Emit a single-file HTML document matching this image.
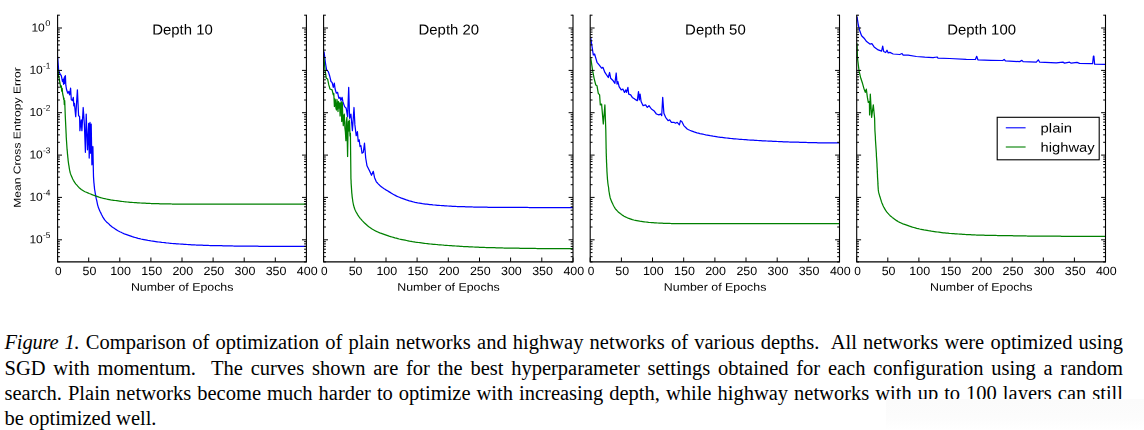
<!DOCTYPE html>
<html><head><meta charset="utf-8"><title>Figure 1</title>
<style>
html,body{margin:0;padding:0;background:#fff;}
body{width:1144px;height:430px;overflow:hidden;position:relative;font-family:"Liberation Sans",sans-serif;}
svg{position:absolute;left:0;top:0;will-change:transform;}
svg text{font-family:"Liberation Sans",sans-serif;fill:#000;text-rendering:geometricPrecision;}
.cap{position:absolute;left:4.5px;width:1118.5px;font-family:"Liberation Serif",serif;font-size:20.5px;line-height:25px;color:#000;white-space:nowrap;text-align:justify;text-align-last:justify;height:25px;}
.cap.last{text-align-last:left;}
.mask{position:absolute;left:886px;top:399.3px;width:258px;height:31px;background:linear-gradient(#fbfbfb,#fcfcfc 60%,#ffffff);}
</style></head><body>
<svg width="1144" height="300" viewBox="0 0 1144 300">
<clipPath id="c0"><rect x="57.6" y="13.2" width="248.79999999999998" height="248.7"/></clipPath>
<g clip-path="url(#c0)" fill="none" stroke-width="1.25" stroke-linejoin="round">
<path d="M57.6,56.6 L58.6,69.9 L60.0,74.0 L61.3,75.7 L62.5,81.5 L63.2,79.5 L63.6,84.3 L64.1,77.8 L64.4,83.5 L64.8,76.3 L65.1,82.5 L65.4,75.7 L65.8,85.2 L66.6,89.8 L67.8,93.2 L68.8,91.5 L69.6,94.8 L70.6,88.2 L71.3,99.8 L72.4,100.6 L73.3,97.3 L73.8,105.8 L74.4,103.3 L75.7,116.6 L77.4,89.8 L78.6,115.8 L79.6,116.6 L79.9,130.7 L81.2,119.9 L81.9,130.7 L83.2,107.5 L84.4,124.9 L85.4,152.3 L86.2,114.1 L87.5,149.8 L88.7,123.3 L89.2,158.1 L90.0,122.4 L90.5,153.2 L91.2,124.1 L91.9,164.8 L92.9,146.5 L93.3,168.0 L93.5,176.6 L93.6,178.1 L93.7,179.6 L93.8,181.1 L93.9,182.6 L94.1,184.1 L94.2,185.6 L94.4,187.1 L94.5,188.6 L94.7,190.0 L95.0,191.5 L95.2,193.0 L95.5,194.5 L95.7,196.0 L96.0,197.4 L96.3,198.9 L96.7,200.4 L97.0,201.8 L97.3,203.3 L97.6,204.8 L98.0,206.2 L98.4,207.6 L99.0,209.0 L99.6,210.4 L100.2,211.8 L100.9,213.1 L101.5,214.5 L102.2,215.8 L102.9,217.1 L103.7,218.4 L104.5,219.7 L105.5,220.8 L106.5,221.9 L107.7,222.9 L108.8,223.9 L109.8,225.0 L111.0,225.9 L112.2,226.9 L113.4,227.8 L114.6,228.6 L115.8,229.4 L117.1,230.2 L118.4,231.0 L119.8,231.7 L121.1,232.3 L122.5,233.0 L123.8,233.6 L125.2,234.2 L126.6,234.7 L128.0,235.2 L129.4,235.7 L130.9,236.2 L132.3,236.7 L133.7,237.1 L135.2,237.5 L136.6,237.9 L138.1,238.3 L139.5,238.6 L141.0,239.0 L142.5,239.3 L143.9,239.6 L145.4,239.9 L146.9,240.2 L148.3,240.5 L149.8,240.7 L151.3,241.0 L152.8,241.2 L154.3,241.4 L155.8,241.6 L157.2,241.8 L158.7,242.0 L160.2,242.2 L161.7,242.4 L163.2,242.5 L164.7,242.7 L166.2,242.9 L167.7,243.0 L169.2,243.2 L170.7,243.3 L172.2,243.5 L173.7,243.6 L175.1,243.7 L176.6,243.8 L178.1,243.9 L179.6,244.0 L181.1,244.1 L182.6,244.2 L184.1,244.3 L185.6,244.4 L187.1,244.5 L188.6,244.6 L190.1,244.7 L191.6,244.8 L193.1,244.8 L194.6,244.9 L196.1,245.0 L197.6,245.0 L199.1,245.1 L200.6,245.2 L202.1,245.2 L203.6,245.3 L205.1,245.3 L206.6,245.4 L208.1,245.4 L209.6,245.5 L211.1,245.5 L212.6,245.6 L214.1,245.6 L215.6,245.6 L217.1,245.7 L218.6,245.7 L220.1,245.7 L221.6,245.7 L223.1,245.8 L224.6,245.8 L226.1,245.8 L227.6,245.8 L229.1,245.9 L230.6,245.9 L232.1,245.9 L233.6,246.0 L235.1,246.0 L236.6,246.0 L238.1,246.0 L239.6,246.1 L241.1,246.1 L242.6,246.1 L244.1,246.1 L245.6,246.1 L247.1,246.2 L248.6,246.2 L250.1,246.2 L251.6,246.2 L253.1,246.2 L254.6,246.2 L256.1,246.2 L257.6,246.2 L259.1,246.3 L260.6,246.3 L262.1,246.3 L263.6,246.3 L265.1,246.3 L266.6,246.3 L268.1,246.3 L269.6,246.3 L271.1,246.3 L272.6,246.3 L274.1,246.3 L275.6,246.3 L277.1,246.3 L278.6,246.3 L280.1,246.4 L281.6,246.4 L283.1,246.4 L284.6,246.4 L286.1,246.4 L287.6,246.4 L289.1,246.4 L290.6,246.4 L292.1,246.4 L293.6,246.4 L295.1,246.4 L296.6,246.4 L298.1,246.4 L299.6,246.4 L301.1,246.4 L302.6,246.4 L304.1,246.4 L305.6,246.4 L306.4,246.4" stroke="#0000ff"/>
<path d="M57.6,69.0 L58.3,72.0 L58.6,76.5 L59.1,78.2 L59.9,83.0 L60.8,87.3 L61.3,85.8 L61.7,91.2 L62.2,88.3 L62.6,93.5 L63.3,96.5 L63.7,99.5 L64.0,98.0 L64.3,104.5 L64.7,100.5 L65.0,108.5 L65.3,116.6 L66.1,133.2 L66.2,134.7 L66.2,136.2 L66.3,137.7 L66.4,139.2 L66.5,140.7 L66.6,142.2 L66.7,143.7 L66.8,145.2 L66.9,146.7 L67.0,148.2 L67.1,149.7 L67.3,151.2 L67.4,152.7 L67.5,154.2 L67.7,155.6 L67.8,157.1 L68.0,158.6 L68.1,160.1 L68.3,161.6 L68.5,163.1 L68.7,164.6 L69.0,166.1 L69.2,167.6 L69.4,169.0 L69.7,170.5 L70.0,172.0 L70.4,173.4 L70.9,174.8 L71.5,176.2 L72.1,177.6 L72.7,179.0 L73.4,180.3 L74.2,181.6 L75.0,182.9 L75.9,184.1 L76.9,185.2 L77.9,186.3 L78.9,187.4 L80.1,188.4 L81.3,189.4 L82.5,190.2 L83.7,191.0 L85.0,191.7 L86.4,192.3 L87.8,192.9 L89.2,193.5 L90.6,194.0 L92.0,194.6 L93.4,195.2 L94.8,195.7 L96.2,196.2 L97.6,196.7 L99.0,197.2 L100.5,197.6 L101.9,198.0 L103.4,198.4 L104.8,198.7 L106.3,199.0 L107.8,199.3 L109.3,199.6 L110.7,199.9 L112.2,200.1 L113.7,200.3 L115.2,200.5 L116.7,200.7 L118.2,200.9 L119.6,201.1 L121.1,201.3 L122.6,201.5 L124.1,201.7 L125.6,201.8 L127.1,202.0 L128.6,202.1 L130.1,202.3 L131.6,202.4 L133.1,202.5 L134.6,202.6 L136.1,202.7 L137.6,202.8 L139.1,202.9 L140.6,203.0 L142.1,203.1 L143.6,203.1 L145.1,203.2 L146.6,203.3 L148.1,203.3 L149.6,203.4 L151.0,203.5 L152.5,203.5 L154.0,203.6 L155.5,203.6 L157.0,203.7 L158.5,203.7 L160.0,203.8 L161.5,203.8 L163.0,203.8 L164.5,203.9 L166.0,203.9 L167.5,203.9 L169.0,203.9 L170.5,203.9 L172.0,204.0 L173.5,204.0 L175.0,204.0 L176.5,204.0 L178.0,204.0 L179.5,204.0 L181.0,204.0 L182.5,204.0 L184.0,204.0 L185.5,204.0 L187.0,204.0 L188.5,204.0 L190.0,204.0 L191.5,204.0 L193.0,204.0 L194.5,204.0 L196.0,204.0 L197.5,204.0 L199.0,204.0 L200.5,204.0 L202.0,204.0 L203.5,204.0 L205.0,204.0 L206.5,204.0 L208.0,204.0 L209.5,204.0 L211.0,204.0 L212.5,204.0 L214.0,204.0 L215.5,204.0 L217.0,204.0 L218.5,204.0 L220.0,204.0 L221.5,204.0 L223.0,204.0 L224.5,204.0 L226.0,204.0 L227.5,204.0 L229.0,204.0 L230.5,204.0 L232.0,204.0 L233.5,204.0 L235.0,204.0 L236.5,204.0 L238.0,204.0 L239.5,204.0 L241.0,204.0 L242.5,204.0 L244.0,204.0 L245.5,204.0 L247.0,204.0 L248.5,204.0 L250.0,204.0 L251.5,204.0 L253.0,204.0 L254.5,204.0 L256.0,204.0 L257.5,204.0 L259.0,204.0 L260.5,204.0 L262.0,204.0 L263.5,204.0 L265.0,204.0 L266.5,204.0 L268.0,204.0 L269.5,204.0 L271.0,204.0 L272.5,204.0 L274.0,204.0 L275.5,204.0 L277.0,204.0 L278.5,204.0 L280.0,204.0 L281.5,204.0 L283.0,204.0 L284.5,204.0 L286.0,204.0 L287.5,204.0 L289.0,204.0 L290.5,204.0 L292.0,204.0 L293.5,204.0 L295.0,204.0 L296.5,204.0 L298.0,204.0 L299.5,204.0 L301.0,204.0 L302.5,204.0 L304.0,204.0 L305.5,204.0 L306.4,204.0" stroke="#008000"/>
</g>
<g stroke="#000" stroke-width="1.1" fill="none">
<path d="M57.6,14.7 V261.9 H306.4 V14.7"/>
<path d="M57.6,261.9 v-4.4 M88.7,261.9 v-4.4 M119.8,261.9 v-4.4 M150.9,261.9 v-4.4 M182.0,261.9 v-4.4 M213.1,261.9 v-4.4 M244.2,261.9 v-4.4 M275.3,261.9 v-4.4 M306.4,261.9 v-4.4 M57.6,28.0 h4.4 M306.4,28.0 h-4.4 M57.6,70.4 h4.4 M306.4,70.4 h-4.4 M57.6,112.7 h4.4 M306.4,112.7 h-4.4 M57.6,155.1 h4.4 M306.4,155.1 h-4.4 M57.6,197.4 h4.4 M306.4,197.4 h-4.4 M57.6,239.8 h4.4 M306.4,239.8 h-4.4 M57.6,15.2 h2.3 M306.4,15.2 h-2.3 M57.6,57.6 h2.3 M306.4,57.6 h-2.3 M57.6,50.1 h2.3 M306.4,50.1 h-2.3 M57.6,44.9 h2.3 M306.4,44.9 h-2.3 M57.6,40.8 h2.3 M306.4,40.8 h-2.3 M57.6,37.4 h2.3 M306.4,37.4 h-2.3 M57.6,34.6 h2.3 M306.4,34.6 h-2.3 M57.6,32.1 h2.3 M306.4,32.1 h-2.3 M57.6,29.9 h2.3 M306.4,29.9 h-2.3 M57.6,100.0 h2.3 M306.4,100.0 h-2.3 M57.6,92.5 h2.3 M306.4,92.5 h-2.3 M57.6,87.2 h2.3 M306.4,87.2 h-2.3 M57.6,83.1 h2.3 M306.4,83.1 h-2.3 M57.6,79.8 h2.3 M306.4,79.8 h-2.3 M57.6,76.9 h2.3 M306.4,76.9 h-2.3 M57.6,74.5 h2.3 M306.4,74.5 h-2.3 M57.6,72.3 h2.3 M306.4,72.3 h-2.3 M57.6,142.3 h2.3 M306.4,142.3 h-2.3 M57.6,134.9 h2.3 M306.4,134.9 h-2.3 M57.6,129.6 h2.3 M306.4,129.6 h-2.3 M57.6,125.5 h2.3 M306.4,125.5 h-2.3 M57.6,122.1 h2.3 M306.4,122.1 h-2.3 M57.6,119.3 h2.3 M306.4,119.3 h-2.3 M57.6,116.8 h2.3 M306.4,116.8 h-2.3 M57.6,114.7 h2.3 M306.4,114.7 h-2.3 M57.6,184.7 h2.3 M306.4,184.7 h-2.3 M57.6,177.2 h2.3 M306.4,177.2 h-2.3 M57.6,171.9 h2.3 M306.4,171.9 h-2.3 M57.6,167.8 h2.3 M306.4,167.8 h-2.3 M57.6,164.5 h2.3 M306.4,164.5 h-2.3 M57.6,161.6 h2.3 M306.4,161.6 h-2.3 M57.6,159.2 h2.3 M306.4,159.2 h-2.3 M57.6,157.0 h2.3 M306.4,157.0 h-2.3 M57.6,227.0 h2.3 M306.4,227.0 h-2.3 M57.6,219.6 h2.3 M306.4,219.6 h-2.3 M57.6,214.3 h2.3 M306.4,214.3 h-2.3 M57.6,210.2 h2.3 M306.4,210.2 h-2.3 M57.6,206.8 h2.3 M306.4,206.8 h-2.3 M57.6,204.0 h2.3 M306.4,204.0 h-2.3 M57.6,201.5 h2.3 M306.4,201.5 h-2.3 M57.6,199.4 h2.3 M306.4,199.4 h-2.3 M57.6,261.9 h2.3 M306.4,261.9 h-2.3 M57.6,256.7 h2.3 M306.4,256.7 h-2.3 M57.6,252.6 h2.3 M306.4,252.6 h-2.3 M57.6,249.2 h2.3 M306.4,249.2 h-2.3 M57.6,246.4 h2.3 M306.4,246.4 h-2.3 M57.6,243.9 h2.3 M306.4,243.9 h-2.3 M57.6,241.7 h2.3 M306.4,241.7 h-2.3" stroke-width="1"/>
</g>
<text transform="rotate(0.03 182.5 34.6)" x="182.5" y="34.6" font-size="14.4" text-anchor="middle" textLength="60.6" lengthAdjust="spacingAndGlyphs">Depth 10</text>
<text transform="rotate(0.03 182.2 290.8)" x="182.2" y="290.8" font-size="11" text-anchor="middle" textLength="102.5" lengthAdjust="spacingAndGlyphs">Number of Epochs</text>
<text transform="rotate(0.03 58.4 274.9)" x="58.4" y="274.9" font-size="12" text-anchor="middle" textLength="6.6" lengthAdjust="spacingAndGlyphs">0</text>
<text transform="rotate(0.03 89.5 274.9)" x="89.5" y="274.9" font-size="12" text-anchor="middle" textLength="13.8" lengthAdjust="spacingAndGlyphs">50</text>
<text transform="rotate(0.03 120.6 274.9)" x="120.6" y="274.9" font-size="12" text-anchor="middle" textLength="20.8" lengthAdjust="spacingAndGlyphs">100</text>
<text transform="rotate(0.03 151.7 274.9)" x="151.7" y="274.9" font-size="12" text-anchor="middle" textLength="20.8" lengthAdjust="spacingAndGlyphs">150</text>
<text transform="rotate(0.03 182.8 274.9)" x="182.8" y="274.9" font-size="12" text-anchor="middle" textLength="20.8" lengthAdjust="spacingAndGlyphs">200</text>
<text transform="rotate(0.03 213.9 274.9)" x="213.9" y="274.9" font-size="12" text-anchor="middle" textLength="20.8" lengthAdjust="spacingAndGlyphs">250</text>
<text transform="rotate(0.03 245.0 274.9)" x="245.0" y="274.9" font-size="12" text-anchor="middle" textLength="20.8" lengthAdjust="spacingAndGlyphs">300</text>
<text transform="rotate(0.03 276.1 274.9)" x="276.1" y="274.9" font-size="12" text-anchor="middle" textLength="20.8" lengthAdjust="spacingAndGlyphs">350</text>
<text transform="rotate(0.03 307.2 274.9)" x="307.2" y="274.9" font-size="12" text-anchor="middle" textLength="20.8" lengthAdjust="spacingAndGlyphs">400</text>
<clipPath id="c1"><rect x="323.6" y="13.2" width="249.39999999999998" height="248.7"/></clipPath>
<g clip-path="url(#c1)" fill="none" stroke-width="1.25" stroke-linejoin="round">
<path d="M324.0,51.6 L325.5,63.3 L326.6,69.9 L328.3,71.6 L329.6,75.7 L331.0,81.5 L332.1,82.4 L333.3,87.3 L334.3,83.2 L335.1,89.0 L336.3,93.2 L337.6,92.3 L338.8,98.1 L340.1,97.3 L340.9,100.6 L342.1,97.3 L342.9,101.7 L344.6,106.6 L346.2,108.3 L347.6,116.6 L348.7,87.3 L349.6,118.3 L350.9,114.1 L352.4,130.7 L354.0,107.5 L354.9,124.9 L356.2,135.7 L357.4,131.6 L358.2,141.5 L359.2,139.9 L360.0,146.5 L360.9,145.7 L362.0,153.2 L363.3,152.3 L364.5,143.2 L365.7,158.0 L367.0,165.8 L369.5,170.8 L371.5,175.3 L373.3,171.3 L374.5,177.4 L376.1,181.3 L377.0,182.5 L378.0,183.6 L379.1,184.7 L380.1,185.8 L381.3,186.7 L382.4,187.6 L383.7,188.5 L385.0,189.3 L386.3,190.1 L387.5,190.8 L388.8,191.6 L390.1,192.4 L391.4,193.2 L392.7,194.0 L394.0,194.7 L395.3,195.4 L396.6,196.1 L398.0,196.7 L399.4,197.3 L400.8,197.9 L402.2,198.4 L403.6,198.9 L405.0,199.4 L406.4,199.9 L407.9,200.3 L409.3,200.8 L410.7,201.2 L412.2,201.6 L413.6,202.0 L415.1,202.4 L416.6,202.7 L418.0,203.0 L419.5,203.2 L421.0,203.4 L422.5,203.7 L423.9,203.9 L425.4,204.1 L426.9,204.2 L428.4,204.4 L429.9,204.6 L431.4,204.7 L432.9,204.9 L434.4,205.0 L435.9,205.1 L437.4,205.3 L438.9,205.4 L440.4,205.5 L441.9,205.6 L443.4,205.7 L444.9,205.9 L446.4,205.9 L447.9,206.0 L449.4,206.1 L450.9,206.2 L452.4,206.3 L453.9,206.3 L455.4,206.4 L456.9,206.5 L458.4,206.5 L459.9,206.6 L461.4,206.6 L462.9,206.7 L464.4,206.7 L465.8,206.8 L467.3,206.8 L468.8,206.8 L470.3,206.9 L471.8,206.9 L473.3,207.0 L474.8,207.0 L476.3,207.0 L477.8,207.1 L479.3,207.1 L480.8,207.1 L482.3,207.2 L483.8,207.2 L485.3,207.2 L486.8,207.2 L488.3,207.3 L489.8,207.3 L491.3,207.3 L492.8,207.3 L494.3,207.3 L495.8,207.3 L497.3,207.3 L498.8,207.4 L500.3,207.4 L501.8,207.4 L503.3,207.4 L504.8,207.4 L506.3,207.4 L507.8,207.4 L509.3,207.4 L510.8,207.4 L512.3,207.4 L513.8,207.4 L515.3,207.4 L516.8,207.4 L518.3,207.4 L519.8,207.4 L521.3,207.4 L522.8,207.4 L524.3,207.4 L525.8,207.4 L527.3,207.4 L528.8,207.5 L530.3,207.5 L531.8,207.5 L533.3,207.5 L534.8,207.5 L536.3,207.5 L537.8,207.5 L539.3,207.5 L540.8,207.5 L542.3,207.5 L543.8,207.5 L545.3,207.5 L546.8,207.5 L548.3,207.5 L549.8,207.5 L551.3,207.5 L552.8,207.5 L554.3,207.5 L555.8,207.5 L557.3,207.5 L558.8,207.5 L560.3,207.5 L561.8,207.5 L563.3,207.5 L564.8,207.5 L566.3,207.5 L567.8,207.5 L569.3,207.5 L570.8,207.5 L572.3,207.5 L573.0,207.5" stroke="#0000ff"/>
<path d="M324.0,58.3 L325.0,69.9 L326.3,78.2 L327.6,79.0 L328.8,84.9 L330.0,89.0 L332.1,89.8 L333.3,94.8 L333.8,93.5 L334.4,106.5 L335.0,99.0 L335.4,100.5 L335.9,108.0 L336.5,110.0 L337.0,99.5 L337.5,104.8 L338.0,111.5 L338.5,101.5 L339.1,108.0 L339.6,103.0 L340.1,116.0 L340.6,104.0 L341.2,101.6 L341.7,121.5 L342.3,102.5 L342.8,118.0 L343.3,125.7 L343.8,116.0 L344.3,114.2 L344.9,128.0 L345.4,132.0 L345.9,140.7 L346.3,122.0 L346.9,117.3 L347.2,138.0 L347.6,156.5 L348.0,133.0 L348.4,121.6 L348.8,131.0 L349.2,120.0 L349.6,122.4 L350.0,136.0 L350.4,133.2 L350.9,176.6 L350.9,178.1 L351.0,179.6 L351.1,181.1 L351.1,182.6 L351.2,184.1 L351.3,185.6 L351.4,187.1 L351.5,188.6 L351.6,190.1 L351.7,191.6 L351.8,193.1 L352.0,194.6 L352.1,196.1 L352.3,197.6 L352.5,199.0 L352.7,200.5 L352.9,202.0 L353.2,203.5 L353.5,205.0 L353.9,206.4 L354.3,207.8 L354.8,209.2 L355.4,210.6 L356.1,212.0 L356.9,213.3 L357.6,214.6 L358.4,215.8 L359.3,217.1 L360.2,218.3 L361.2,219.4 L362.2,220.6 L363.2,221.6 L364.3,222.7 L365.4,223.7 L366.5,224.7 L367.6,225.7 L368.8,226.7 L370.0,227.6 L371.3,228.5 L372.5,229.3 L373.8,230.0 L375.1,230.7 L376.4,231.4 L377.8,232.0 L379.2,232.6 L380.6,233.2 L382.0,233.7 L383.4,234.2 L384.8,234.7 L386.2,235.2 L387.7,235.7 L389.1,236.2 L390.5,236.6 L392.0,237.0 L393.4,237.4 L394.9,237.9 L396.3,238.2 L397.8,238.6 L399.2,239.0 L400.7,239.3 L402.1,239.6 L403.6,239.9 L405.1,240.2 L406.6,240.5 L408.0,240.8 L409.5,241.1 L411.0,241.3 L412.5,241.6 L413.9,241.8 L415.4,242.1 L416.9,242.3 L418.4,242.5 L419.9,242.7 L421.4,242.9 L422.9,243.1 L424.3,243.3 L425.8,243.5 L427.3,243.6 L428.8,243.8 L430.3,244.0 L431.8,244.1 L433.3,244.3 L434.8,244.4 L436.3,244.5 L437.8,244.7 L439.3,244.8 L440.8,244.9 L442.3,245.0 L443.8,245.2 L445.3,245.3 L446.7,245.4 L448.2,245.5 L449.7,245.6 L451.2,245.7 L452.7,245.8 L454.2,245.9 L455.7,246.0 L457.2,246.1 L458.7,246.2 L460.2,246.3 L461.7,246.4 L463.2,246.5 L464.7,246.5 L466.2,246.6 L467.7,246.7 L469.2,246.8 L470.7,246.9 L472.2,246.9 L473.7,247.0 L475.2,247.1 L476.7,247.1 L478.2,247.2 L479.7,247.3 L481.2,247.3 L482.7,247.4 L484.2,247.4 L485.7,247.5 L487.2,247.5 L488.7,247.6 L490.2,247.6 L491.7,247.7 L493.2,247.7 L494.7,247.7 L496.2,247.8 L497.7,247.8 L499.2,247.9 L500.7,247.9 L502.2,247.9 L503.7,248.0 L505.2,248.0 L506.7,248.0 L508.2,248.1 L509.7,248.1 L511.2,248.1 L512.7,248.1 L514.2,248.2 L515.7,248.2 L517.2,248.2 L518.7,248.2 L520.2,248.3 L521.7,248.3 L523.2,248.3 L524.7,248.3 L526.2,248.3 L527.7,248.4 L529.2,248.4 L530.7,248.4 L532.2,248.4 L533.7,248.4 L535.2,248.4 L536.7,248.5 L538.2,248.5 L539.7,248.5 L541.2,248.5 L542.7,248.5 L544.2,248.5 L545.7,248.5 L547.2,248.6 L548.7,248.6 L550.2,248.6 L551.7,248.6 L553.2,248.6 L554.7,248.6 L556.2,248.6 L557.7,248.6 L559.2,248.6 L560.7,248.6 L562.2,248.7 L563.7,248.7 L565.2,248.7 L566.7,248.7 L568.2,248.7 L569.7,248.7 L571.2,248.7 L572.7,248.7 L573.0,248.7" stroke="#008000"/>
</g>
<g stroke="#000" stroke-width="1.1" fill="none">
<path d="M323.6,14.7 V261.9 H573.0 V14.7"/>
<path d="M323.6,261.9 v-4.4 M354.8,261.9 v-4.4 M386.0,261.9 v-4.4 M417.1,261.9 v-4.4 M448.3,261.9 v-4.4 M479.5,261.9 v-4.4 M510.6,261.9 v-4.4 M541.8,261.9 v-4.4 M573.0,261.9 v-4.4 M323.6,28.0 h4.4 M573.0,28.0 h-4.4 M323.6,70.4 h4.4 M573.0,70.4 h-4.4 M323.6,112.7 h4.4 M573.0,112.7 h-4.4 M323.6,155.1 h4.4 M573.0,155.1 h-4.4 M323.6,197.4 h4.4 M573.0,197.4 h-4.4 M323.6,239.8 h4.4 M573.0,239.8 h-4.4 M323.6,15.2 h2.3 M573.0,15.2 h-2.3 M323.6,57.6 h2.3 M573.0,57.6 h-2.3 M323.6,50.1 h2.3 M573.0,50.1 h-2.3 M323.6,44.9 h2.3 M573.0,44.9 h-2.3 M323.6,40.8 h2.3 M573.0,40.8 h-2.3 M323.6,37.4 h2.3 M573.0,37.4 h-2.3 M323.6,34.6 h2.3 M573.0,34.6 h-2.3 M323.6,32.1 h2.3 M573.0,32.1 h-2.3 M323.6,29.9 h2.3 M573.0,29.9 h-2.3 M323.6,100.0 h2.3 M573.0,100.0 h-2.3 M323.6,92.5 h2.3 M573.0,92.5 h-2.3 M323.6,87.2 h2.3 M573.0,87.2 h-2.3 M323.6,83.1 h2.3 M573.0,83.1 h-2.3 M323.6,79.8 h2.3 M573.0,79.8 h-2.3 M323.6,76.9 h2.3 M573.0,76.9 h-2.3 M323.6,74.5 h2.3 M573.0,74.5 h-2.3 M323.6,72.3 h2.3 M573.0,72.3 h-2.3 M323.6,142.3 h2.3 M573.0,142.3 h-2.3 M323.6,134.9 h2.3 M573.0,134.9 h-2.3 M323.6,129.6 h2.3 M573.0,129.6 h-2.3 M323.6,125.5 h2.3 M573.0,125.5 h-2.3 M323.6,122.1 h2.3 M573.0,122.1 h-2.3 M323.6,119.3 h2.3 M573.0,119.3 h-2.3 M323.6,116.8 h2.3 M573.0,116.8 h-2.3 M323.6,114.7 h2.3 M573.0,114.7 h-2.3 M323.6,184.7 h2.3 M573.0,184.7 h-2.3 M323.6,177.2 h2.3 M573.0,177.2 h-2.3 M323.6,171.9 h2.3 M573.0,171.9 h-2.3 M323.6,167.8 h2.3 M573.0,167.8 h-2.3 M323.6,164.5 h2.3 M573.0,164.5 h-2.3 M323.6,161.6 h2.3 M573.0,161.6 h-2.3 M323.6,159.2 h2.3 M573.0,159.2 h-2.3 M323.6,157.0 h2.3 M573.0,157.0 h-2.3 M323.6,227.0 h2.3 M573.0,227.0 h-2.3 M323.6,219.6 h2.3 M573.0,219.6 h-2.3 M323.6,214.3 h2.3 M573.0,214.3 h-2.3 M323.6,210.2 h2.3 M573.0,210.2 h-2.3 M323.6,206.8 h2.3 M573.0,206.8 h-2.3 M323.6,204.0 h2.3 M573.0,204.0 h-2.3 M323.6,201.5 h2.3 M573.0,201.5 h-2.3 M323.6,199.4 h2.3 M573.0,199.4 h-2.3 M323.6,261.9 h2.3 M573.0,261.9 h-2.3 M323.6,256.7 h2.3 M573.0,256.7 h-2.3 M323.6,252.6 h2.3 M573.0,252.6 h-2.3 M323.6,249.2 h2.3 M573.0,249.2 h-2.3 M323.6,246.4 h2.3 M573.0,246.4 h-2.3 M323.6,243.9 h2.3 M573.0,243.9 h-2.3 M323.6,241.7 h2.3 M573.0,241.7 h-2.3" stroke-width="1"/>
</g>
<text transform="rotate(0.03 448.8 34.6)" x="448.8" y="34.6" font-size="14.4" text-anchor="middle" textLength="60.6" lengthAdjust="spacingAndGlyphs">Depth 20</text>
<text transform="rotate(0.03 448.5 290.8)" x="448.5" y="290.8" font-size="11" text-anchor="middle" textLength="102.5" lengthAdjust="spacingAndGlyphs">Number of Epochs</text>
<text transform="rotate(0.03 324.4 274.9)" x="324.4" y="274.9" font-size="12" text-anchor="middle" textLength="6.6" lengthAdjust="spacingAndGlyphs">0</text>
<text transform="rotate(0.03 355.6 274.9)" x="355.6" y="274.9" font-size="12" text-anchor="middle" textLength="13.8" lengthAdjust="spacingAndGlyphs">50</text>
<text transform="rotate(0.03 386.8 274.9)" x="386.8" y="274.9" font-size="12" text-anchor="middle" textLength="20.8" lengthAdjust="spacingAndGlyphs">100</text>
<text transform="rotate(0.03 417.9 274.9)" x="417.9" y="274.9" font-size="12" text-anchor="middle" textLength="20.8" lengthAdjust="spacingAndGlyphs">150</text>
<text transform="rotate(0.03 449.1 274.9)" x="449.1" y="274.9" font-size="12" text-anchor="middle" textLength="20.8" lengthAdjust="spacingAndGlyphs">200</text>
<text transform="rotate(0.03 480.3 274.9)" x="480.3" y="274.9" font-size="12" text-anchor="middle" textLength="20.8" lengthAdjust="spacingAndGlyphs">250</text>
<text transform="rotate(0.03 511.4 274.9)" x="511.4" y="274.9" font-size="12" text-anchor="middle" textLength="20.8" lengthAdjust="spacingAndGlyphs">300</text>
<text transform="rotate(0.03 542.6 274.9)" x="542.6" y="274.9" font-size="12" text-anchor="middle" textLength="20.8" lengthAdjust="spacingAndGlyphs">350</text>
<text transform="rotate(0.03 573.8 274.9)" x="573.8" y="274.9" font-size="12" text-anchor="middle" textLength="20.8" lengthAdjust="spacingAndGlyphs">400</text>
<clipPath id="c2"><rect x="590.2" y="13.2" width="249.29999999999995" height="248.7"/></clipPath>
<g clip-path="url(#c2)" fill="none" stroke-width="1.25" stroke-linejoin="round">
<path d="M590.8,38.2 L592.0,46.5 L593.3,54.9 L594.6,54.0 L595.8,58.2 L597.0,62.3 L599.1,64.8 L601.6,68.1 L602.9,67.3 L604.9,72.4 L608.3,77.5 L609.6,72.5 L610.7,78.3 L613.2,80.8 L614.9,83.3 L616.2,73.0 L617.1,84.1 L617.9,81.6 L619.1,86.6 L621.2,89.9 L622.9,89.1 L624.5,92.4 L625.7,89.9 L626.5,92.4 L627.9,87.4 L628.7,94.1 L630.7,94.9 L632.3,97.4 L634.8,99.1 L637.3,100.7 L638.5,91.6 L639.3,99.9 L640.1,94.1 L641.1,101.6 L643.1,105.7 L645.6,104.9 L647.3,107.4 L649.0,105.7 L651.4,109.0 L653.9,110.7 L656.4,114.0 L658.9,114.9 L660.6,114.0 L661.7,115.7 L662.7,97.4 L663.9,113.2 L665.6,117.3 L668.1,120.7 L669.7,119.8 L671.4,122.3 L673.9,122.3 L675.5,123.2 L677.2,122.3 L679.4,124.8 L680.5,120.7 L681.8,121.5 L683.8,125.6 L687.2,129.0 L688.6,129.7 L689.9,130.3 L691.3,130.9 L692.7,131.4 L694.1,131.9 L695.5,132.3 L697.0,132.8 L698.4,133.2 L699.9,133.6 L701.3,133.9 L702.8,134.2 L704.3,134.5 L705.7,134.9 L707.2,135.1 L708.7,135.4 L710.2,135.7 L711.6,135.9 L713.1,136.2 L714.6,136.4 L716.1,136.6 L717.6,136.9 L719.1,137.1 L720.5,137.3 L722.0,137.4 L723.5,137.6 L725.0,137.8 L726.5,138.0 L728.0,138.1 L729.5,138.3 L731.0,138.5 L732.5,138.6 L734.0,138.8 L735.5,138.9 L737.0,139.0 L738.5,139.2 L739.9,139.3 L741.4,139.4 L742.9,139.5 L744.4,139.6 L745.9,139.7 L747.4,139.8 L748.9,140.0 L750.4,140.1 L751.9,140.2 L753.4,140.2 L754.9,140.3 L756.4,140.4 L757.9,140.5 L759.4,140.6 L760.9,140.7 L762.4,140.8 L763.9,140.9 L765.4,140.9 L766.9,141.0 L768.4,141.1 L769.9,141.2 L771.4,141.2 L772.9,141.3 L774.4,141.4 L775.9,141.4 L777.4,141.5 L778.9,141.6 L780.4,141.6 L781.9,141.7 L783.4,141.8 L784.9,141.8 L786.4,141.9 L787.9,141.9 L789.4,142.0 L790.9,142.0 L792.4,142.1 L793.9,142.1 L795.4,142.2 L796.9,142.2 L798.4,142.2 L799.9,142.3 L801.4,142.3 L802.9,142.4 L804.4,142.4 L805.9,142.4 L807.4,142.5 L808.9,142.5 L810.4,142.6 L811.9,142.6 L813.4,142.7 L814.9,142.7 L816.4,142.7 L817.9,142.8 L819.4,142.8 L820.9,142.8 L822.4,142.8 L823.9,142.8 L825.4,142.8 L826.9,142.8 L828.4,142.9 L829.9,142.9 L831.4,142.9 L832.9,142.9 L834.4,142.9 L835.9,142.9 L837.4,142.9 L838.9,142.9 L839.5,142.9" stroke="#0000ff"/>
<path d="M590.8,58.2 L592.5,69.8 L594.1,78.3 L595.8,85.0 L597.0,85.8 L598.3,93.3 L599.6,94.9 L600.3,104.9 L601.6,104.1 L603.3,124.0 L604.9,104.9 L605.8,130.0 L606.1,146.6 L606.1,148.1 L606.2,149.6 L606.2,151.1 L606.2,152.6 L606.3,154.1 L606.3,155.6 L606.4,157.1 L606.4,158.6 L606.5,160.1 L606.5,161.6 L606.6,163.1 L606.7,164.6 L606.7,166.1 L606.8,167.6 L606.9,169.1 L606.9,170.6 L607.0,172.1 L607.1,173.6 L607.2,175.1 L607.3,176.6 L607.4,178.1 L607.5,179.6 L607.7,181.1 L607.8,182.5 L608.0,184.0 L608.2,185.5 L608.5,187.0 L608.7,188.5 L608.8,190.0 L609.0,191.5 L609.3,193.0 L609.5,194.5 L609.8,195.9 L610.1,197.4 L610.5,198.8 L611.1,200.2 L611.6,201.6 L612.3,203.0 L612.9,204.3 L613.6,205.7 L614.3,207.0 L615.1,208.3 L616.0,209.5 L617.0,210.6 L618.0,211.7 L619.2,212.7 L620.3,213.6 L621.5,214.5 L622.8,215.4 L624.1,216.2 L625.4,216.9 L626.7,217.5 L628.1,218.1 L629.5,218.6 L630.9,219.1 L632.4,219.6 L633.8,220.0 L635.3,220.3 L636.8,220.6 L638.2,220.9 L639.7,221.2 L641.2,221.4 L642.7,221.6 L644.2,221.8 L645.6,222.0 L647.1,222.2 L648.6,222.4 L650.1,222.5 L651.6,222.6 L653.1,222.7 L654.6,222.8 L656.1,222.9 L657.6,223.0 L659.1,223.1 L660.6,223.1 L662.1,223.2 L663.6,223.3 L665.1,223.3 L666.6,223.4 L668.1,223.4 L669.6,223.4 L671.1,223.5 L672.6,223.5 L674.1,223.6 L675.6,223.6 L677.1,223.6 L678.6,223.6 L680.1,223.7 L681.6,223.7 L683.1,223.7 L684.6,223.7 L686.1,223.7 L687.6,223.7 L689.1,223.7 L690.6,223.7 L692.1,223.7 L693.6,223.7 L695.1,223.7 L696.6,223.7 L698.1,223.7 L699.6,223.7 L701.1,223.7 L702.6,223.7 L704.1,223.7 L705.6,223.7 L707.1,223.7 L708.6,223.7 L710.1,223.7 L711.6,223.7 L713.1,223.7 L714.6,223.7 L716.1,223.7 L717.6,223.7 L719.1,223.7 L720.6,223.7 L722.1,223.7 L723.6,223.7 L725.1,223.7 L726.6,223.7 L728.1,223.7 L729.6,223.7 L731.1,223.7 L732.6,223.7 L734.1,223.7 L735.6,223.7 L737.1,223.7 L738.6,223.7 L740.1,223.7 L741.6,223.7 L743.1,223.7 L744.6,223.7 L746.1,223.7 L747.6,223.7 L749.1,223.7 L750.6,223.7 L752.1,223.7 L753.6,223.7 L755.1,223.7 L756.6,223.7 L758.1,223.7 L759.6,223.7 L761.1,223.7 L762.6,223.7 L764.1,223.7 L765.6,223.7 L767.1,223.7 L768.6,223.7 L770.1,223.7 L771.6,223.7 L773.1,223.7 L774.6,223.7 L776.1,223.7 L777.6,223.7 L779.1,223.7 L780.6,223.7 L782.1,223.7 L783.6,223.7 L785.1,223.7 L786.6,223.7 L788.1,223.7 L789.6,223.7 L791.1,223.7 L792.6,223.7 L794.1,223.7 L795.6,223.7 L797.1,223.7 L798.6,223.7 L800.1,223.7 L801.6,223.7 L803.1,223.7 L804.6,223.7 L806.1,223.7 L807.6,223.7 L809.1,223.7 L810.6,223.7 L812.1,223.7 L813.6,223.7 L815.1,223.7 L816.6,223.7 L818.1,223.7 L819.6,223.7 L821.1,223.7 L822.6,223.7 L824.1,223.7 L825.6,223.7 L827.1,223.7 L828.6,223.7 L830.1,223.7 L831.6,223.7 L833.1,223.7 L834.6,223.7 L836.1,223.7 L837.6,223.7 L839.1,223.7 L839.5,223.7" stroke="#008000"/>
</g>
<g stroke="#000" stroke-width="1.1" fill="none">
<path d="M590.2,14.7 V261.9 H839.5 V14.7"/>
<path d="M590.2,261.9 v-4.4 M621.4,261.9 v-4.4 M652.5,261.9 v-4.4 M683.7,261.9 v-4.4 M714.9,261.9 v-4.4 M746.0,261.9 v-4.4 M777.2,261.9 v-4.4 M808.3,261.9 v-4.4 M839.5,261.9 v-4.4 M590.2,28.0 h4.4 M839.5,28.0 h-4.4 M590.2,70.4 h4.4 M839.5,70.4 h-4.4 M590.2,112.7 h4.4 M839.5,112.7 h-4.4 M590.2,155.1 h4.4 M839.5,155.1 h-4.4 M590.2,197.4 h4.4 M839.5,197.4 h-4.4 M590.2,239.8 h4.4 M839.5,239.8 h-4.4 M590.2,15.2 h2.3 M839.5,15.2 h-2.3 M590.2,57.6 h2.3 M839.5,57.6 h-2.3 M590.2,50.1 h2.3 M839.5,50.1 h-2.3 M590.2,44.9 h2.3 M839.5,44.9 h-2.3 M590.2,40.8 h2.3 M839.5,40.8 h-2.3 M590.2,37.4 h2.3 M839.5,37.4 h-2.3 M590.2,34.6 h2.3 M839.5,34.6 h-2.3 M590.2,32.1 h2.3 M839.5,32.1 h-2.3 M590.2,29.9 h2.3 M839.5,29.9 h-2.3 M590.2,100.0 h2.3 M839.5,100.0 h-2.3 M590.2,92.5 h2.3 M839.5,92.5 h-2.3 M590.2,87.2 h2.3 M839.5,87.2 h-2.3 M590.2,83.1 h2.3 M839.5,83.1 h-2.3 M590.2,79.8 h2.3 M839.5,79.8 h-2.3 M590.2,76.9 h2.3 M839.5,76.9 h-2.3 M590.2,74.5 h2.3 M839.5,74.5 h-2.3 M590.2,72.3 h2.3 M839.5,72.3 h-2.3 M590.2,142.3 h2.3 M839.5,142.3 h-2.3 M590.2,134.9 h2.3 M839.5,134.9 h-2.3 M590.2,129.6 h2.3 M839.5,129.6 h-2.3 M590.2,125.5 h2.3 M839.5,125.5 h-2.3 M590.2,122.1 h2.3 M839.5,122.1 h-2.3 M590.2,119.3 h2.3 M839.5,119.3 h-2.3 M590.2,116.8 h2.3 M839.5,116.8 h-2.3 M590.2,114.7 h2.3 M839.5,114.7 h-2.3 M590.2,184.7 h2.3 M839.5,184.7 h-2.3 M590.2,177.2 h2.3 M839.5,177.2 h-2.3 M590.2,171.9 h2.3 M839.5,171.9 h-2.3 M590.2,167.8 h2.3 M839.5,167.8 h-2.3 M590.2,164.5 h2.3 M839.5,164.5 h-2.3 M590.2,161.6 h2.3 M839.5,161.6 h-2.3 M590.2,159.2 h2.3 M839.5,159.2 h-2.3 M590.2,157.0 h2.3 M839.5,157.0 h-2.3 M590.2,227.0 h2.3 M839.5,227.0 h-2.3 M590.2,219.6 h2.3 M839.5,219.6 h-2.3 M590.2,214.3 h2.3 M839.5,214.3 h-2.3 M590.2,210.2 h2.3 M839.5,210.2 h-2.3 M590.2,206.8 h2.3 M839.5,206.8 h-2.3 M590.2,204.0 h2.3 M839.5,204.0 h-2.3 M590.2,201.5 h2.3 M839.5,201.5 h-2.3 M590.2,199.4 h2.3 M839.5,199.4 h-2.3 M590.2,261.9 h2.3 M839.5,261.9 h-2.3 M590.2,256.7 h2.3 M839.5,256.7 h-2.3 M590.2,252.6 h2.3 M839.5,252.6 h-2.3 M590.2,249.2 h2.3 M839.5,249.2 h-2.3 M590.2,246.4 h2.3 M839.5,246.4 h-2.3 M590.2,243.9 h2.3 M839.5,243.9 h-2.3 M590.2,241.7 h2.3 M839.5,241.7 h-2.3" stroke-width="1"/>
</g>
<text transform="rotate(0.03 715.4 34.6)" x="715.4" y="34.6" font-size="14.4" text-anchor="middle" textLength="60.6" lengthAdjust="spacingAndGlyphs">Depth 50</text>
<text transform="rotate(0.03 715.1 290.8)" x="715.1" y="290.8" font-size="11" text-anchor="middle" textLength="102.5" lengthAdjust="spacingAndGlyphs">Number of Epochs</text>
<text transform="rotate(0.03 591.0 274.9)" x="591.0" y="274.9" font-size="12" text-anchor="middle" textLength="6.6" lengthAdjust="spacingAndGlyphs">0</text>
<text transform="rotate(0.03 622.2 274.9)" x="622.2" y="274.9" font-size="12" text-anchor="middle" textLength="13.8" lengthAdjust="spacingAndGlyphs">50</text>
<text transform="rotate(0.03 653.3 274.9)" x="653.3" y="274.9" font-size="12" text-anchor="middle" textLength="20.8" lengthAdjust="spacingAndGlyphs">100</text>
<text transform="rotate(0.03 684.5 274.9)" x="684.5" y="274.9" font-size="12" text-anchor="middle" textLength="20.8" lengthAdjust="spacingAndGlyphs">150</text>
<text transform="rotate(0.03 715.6 274.9)" x="715.6" y="274.9" font-size="12" text-anchor="middle" textLength="20.8" lengthAdjust="spacingAndGlyphs">200</text>
<text transform="rotate(0.03 746.8 274.9)" x="746.8" y="274.9" font-size="12" text-anchor="middle" textLength="20.8" lengthAdjust="spacingAndGlyphs">250</text>
<text transform="rotate(0.03 778.0 274.9)" x="778.0" y="274.9" font-size="12" text-anchor="middle" textLength="20.8" lengthAdjust="spacingAndGlyphs">300</text>
<text transform="rotate(0.03 809.1 274.9)" x="809.1" y="274.9" font-size="12" text-anchor="middle" textLength="20.8" lengthAdjust="spacingAndGlyphs">350</text>
<text transform="rotate(0.03 840.3 274.9)" x="840.3" y="274.9" font-size="12" text-anchor="middle" textLength="20.8" lengthAdjust="spacingAndGlyphs">400</text>
<clipPath id="c3"><rect x="856.7" y="13.2" width="248.79999999999995" height="248.7"/></clipPath>
<g clip-path="url(#c3)" fill="none" stroke-width="1.25" stroke-linejoin="round">
<path d="M857.0,16.6 L858.3,25.0 L860.0,31.6 L861.6,35.7 L864.1,38.2 L866.6,41.6 L869.9,44.1 L871.9,43.7 L874.1,46.9 L878.2,49.9 L881.6,51.2 L882.7,46.2 L883.7,51.5 L885.7,52.5 L887.0,50.2 L888.2,52.9 L889.9,52.4 L893.2,54.0 L899.8,54.5 L902.0,53.5 L903.2,55.2 L908.1,55.2 L916.4,56.5 L924.8,57.2 L933.1,57.7 L937.2,57.0 L938.0,58.2 L949.7,58.5 L966.3,59.3 L975.4,59.5 L976.7,56.3 L977.9,59.8 L991.2,60.3 L1002.8,60.5 L1004.1,59.5 L1005.4,60.8 L1019.7,61.6 L1021.9,60.4 L1023.1,61.7 L1036.3,62.1 L1038.3,59.8 L1039.7,62.2 L1056.3,62.9 L1062.9,62.1 L1064.6,63.1 L1069.6,62.2 L1071.2,63.2 L1077.0,62.4 L1079.5,63.4 L1092.6,63.7 L1093.4,56.2 L1093.9,56.2 L1094.6,64.1 L1105.0,64.4" stroke="#0000ff"/>
<path d="M857.0,43.2 L857.5,58.2 L859.1,71.2 L860.8,78.3 L862.5,83.3 L864.1,89.1 L865.3,92.4 L866.3,89.1 L867.4,97.4 L868.3,102.4 L869.4,101.6 L869.6,114.9 L870.3,94.1 L871.6,117.3 L873.3,104.9 L874.6,118.2 L874.9,130.0 L875.0,131.5 L875.1,133.0 L875.2,134.5 L875.3,136.0 L875.4,137.5 L875.4,139.0 L875.5,140.5 L875.6,142.0 L875.7,143.5 L875.8,145.0 L875.9,146.5 L876.0,148.0 L876.1,149.5 L876.2,151.0 L876.3,152.5 L876.4,154.0 L876.4,155.5 L876.5,157.0 L876.6,158.4 L876.7,159.9 L876.8,161.4 L876.9,162.9 L877.0,164.4 L877.0,165.9 L877.1,167.4 L877.2,168.9 L877.3,170.4 L877.3,171.9 L877.4,173.4 L877.5,174.9 L877.5,176.4 L877.6,177.9 L877.7,179.4 L877.8,180.9 L877.9,182.4 L877.9,183.9 L878.0,185.4 L878.1,186.9 L878.2,188.4 L878.3,189.9 L878.5,191.4 L878.8,192.9 L879.2,194.3 L879.6,195.7 L880.1,197.2 L880.5,198.6 L881.0,200.1 L881.4,201.5 L881.9,202.9 L882.5,204.3 L883.1,205.7 L883.7,207.0 L884.5,208.4 L885.2,209.7 L886.0,210.9 L886.9,212.1 L887.8,213.2 L888.9,214.4 L889.9,215.4 L891.1,216.4 L892.2,217.4 L893.4,218.3 L894.6,219.2 L895.8,220.1 L897.1,220.9 L898.4,221.7 L899.7,222.4 L901.1,223.0 L902.4,223.6 L903.8,224.2 L905.3,224.7 L906.7,225.2 L908.1,225.7 L909.5,226.2 L910.9,226.6 L912.4,227.1 L913.8,227.5 L915.3,227.9 L916.7,228.3 L918.2,228.6 L919.6,229.0 L921.1,229.3 L922.6,229.6 L924.0,229.9 L925.5,230.1 L927.0,230.4 L928.5,230.7 L930.0,230.9 L931.4,231.2 L932.9,231.4 L934.4,231.6 L935.9,231.8 L937.4,232.0 L938.9,232.2 L940.3,232.4 L941.8,232.6 L943.3,232.8 L944.8,232.9 L946.3,233.1 L947.8,233.2 L949.3,233.4 L950.8,233.5 L952.3,233.6 L953.8,233.7 L955.3,233.8 L956.8,233.9 L958.3,234.0 L959.8,234.1 L961.3,234.2 L962.8,234.3 L964.3,234.4 L965.8,234.5 L967.3,234.5 L968.8,234.6 L970.3,234.7 L971.8,234.8 L973.3,234.8 L974.7,234.9 L976.2,235.0 L977.7,235.0 L979.2,235.1 L980.7,235.1 L982.2,235.2 L983.7,235.2 L985.2,235.3 L986.7,235.3 L988.2,235.3 L989.7,235.3 L991.2,235.4 L992.7,235.4 L994.2,235.4 L995.7,235.4 L997.2,235.5 L998.7,235.5 L1000.2,235.5 L1001.7,235.5 L1003.2,235.6 L1004.7,235.6 L1006.2,235.6 L1007.7,235.7 L1009.2,235.7 L1010.7,235.7 L1012.2,235.7 L1013.7,235.8 L1015.2,235.8 L1016.7,235.8 L1018.2,235.8 L1019.7,235.9 L1021.2,235.9 L1022.7,235.9 L1024.2,235.9 L1025.7,235.9 L1027.2,236.0 L1028.7,236.0 L1030.2,236.0 L1031.7,236.0 L1033.2,236.0 L1034.7,236.0 L1036.2,236.1 L1037.7,236.1 L1039.2,236.1 L1040.7,236.1 L1042.2,236.1 L1043.7,236.1 L1045.2,236.1 L1046.7,236.2 L1048.2,236.2 L1049.7,236.2 L1051.2,236.2 L1052.7,236.2 L1054.2,236.2 L1055.7,236.2 L1057.2,236.2 L1058.7,236.2 L1060.2,236.2 L1061.7,236.3 L1063.2,236.3 L1064.7,236.3 L1066.2,236.3 L1067.7,236.3 L1069.2,236.3 L1070.7,236.3 L1072.2,236.3 L1073.7,236.3 L1075.2,236.3 L1076.7,236.3 L1078.2,236.3 L1079.7,236.3 L1081.2,236.3 L1082.7,236.4 L1084.2,236.4 L1085.7,236.4 L1087.2,236.4 L1088.7,236.4 L1090.2,236.4 L1091.7,236.4 L1093.2,236.4 L1094.7,236.4 L1096.2,236.4 L1097.7,236.4 L1099.2,236.4 L1100.7,236.4 L1102.2,236.4 L1103.7,236.4 L1105.0,236.4" stroke="#008000"/>
</g>
<g stroke="#000" stroke-width="1.1" fill="none">
<path d="M856.7,14.7 V261.9 H1105.5 V14.7"/>
<path d="M856.7,261.9 v-4.4 M887.8,261.9 v-4.4 M918.9,261.9 v-4.4 M950.0,261.9 v-4.4 M981.1,261.9 v-4.4 M1012.2,261.9 v-4.4 M1043.3,261.9 v-4.4 M1074.4,261.9 v-4.4 M1105.5,261.9 v-4.4 M856.7,28.0 h4.4 M1105.5,28.0 h-4.4 M856.7,70.4 h4.4 M1105.5,70.4 h-4.4 M856.7,112.7 h4.4 M1105.5,112.7 h-4.4 M856.7,155.1 h4.4 M1105.5,155.1 h-4.4 M856.7,197.4 h4.4 M1105.5,197.4 h-4.4 M856.7,239.8 h4.4 M1105.5,239.8 h-4.4 M856.7,15.2 h2.3 M1105.5,15.2 h-2.3 M856.7,57.6 h2.3 M1105.5,57.6 h-2.3 M856.7,50.1 h2.3 M1105.5,50.1 h-2.3 M856.7,44.9 h2.3 M1105.5,44.9 h-2.3 M856.7,40.8 h2.3 M1105.5,40.8 h-2.3 M856.7,37.4 h2.3 M1105.5,37.4 h-2.3 M856.7,34.6 h2.3 M1105.5,34.6 h-2.3 M856.7,32.1 h2.3 M1105.5,32.1 h-2.3 M856.7,29.9 h2.3 M1105.5,29.9 h-2.3 M856.7,100.0 h2.3 M1105.5,100.0 h-2.3 M856.7,92.5 h2.3 M1105.5,92.5 h-2.3 M856.7,87.2 h2.3 M1105.5,87.2 h-2.3 M856.7,83.1 h2.3 M1105.5,83.1 h-2.3 M856.7,79.8 h2.3 M1105.5,79.8 h-2.3 M856.7,76.9 h2.3 M1105.5,76.9 h-2.3 M856.7,74.5 h2.3 M1105.5,74.5 h-2.3 M856.7,72.3 h2.3 M1105.5,72.3 h-2.3 M856.7,142.3 h2.3 M1105.5,142.3 h-2.3 M856.7,134.9 h2.3 M1105.5,134.9 h-2.3 M856.7,129.6 h2.3 M1105.5,129.6 h-2.3 M856.7,125.5 h2.3 M1105.5,125.5 h-2.3 M856.7,122.1 h2.3 M1105.5,122.1 h-2.3 M856.7,119.3 h2.3 M1105.5,119.3 h-2.3 M856.7,116.8 h2.3 M1105.5,116.8 h-2.3 M856.7,114.7 h2.3 M1105.5,114.7 h-2.3 M856.7,184.7 h2.3 M1105.5,184.7 h-2.3 M856.7,177.2 h2.3 M1105.5,177.2 h-2.3 M856.7,171.9 h2.3 M1105.5,171.9 h-2.3 M856.7,167.8 h2.3 M1105.5,167.8 h-2.3 M856.7,164.5 h2.3 M1105.5,164.5 h-2.3 M856.7,161.6 h2.3 M1105.5,161.6 h-2.3 M856.7,159.2 h2.3 M1105.5,159.2 h-2.3 M856.7,157.0 h2.3 M1105.5,157.0 h-2.3 M856.7,227.0 h2.3 M1105.5,227.0 h-2.3 M856.7,219.6 h2.3 M1105.5,219.6 h-2.3 M856.7,214.3 h2.3 M1105.5,214.3 h-2.3 M856.7,210.2 h2.3 M1105.5,210.2 h-2.3 M856.7,206.8 h2.3 M1105.5,206.8 h-2.3 M856.7,204.0 h2.3 M1105.5,204.0 h-2.3 M856.7,201.5 h2.3 M1105.5,201.5 h-2.3 M856.7,199.4 h2.3 M1105.5,199.4 h-2.3 M856.7,261.9 h2.3 M1105.5,261.9 h-2.3 M856.7,256.7 h2.3 M1105.5,256.7 h-2.3 M856.7,252.6 h2.3 M1105.5,252.6 h-2.3 M856.7,249.2 h2.3 M1105.5,249.2 h-2.3 M856.7,246.4 h2.3 M1105.5,246.4 h-2.3 M856.7,243.9 h2.3 M1105.5,243.9 h-2.3 M856.7,241.7 h2.3 M1105.5,241.7 h-2.3" stroke-width="1"/>
</g>
<text transform="rotate(0.03 981.6 34.6)" x="981.6" y="34.6" font-size="14.4" text-anchor="middle" textLength="68.8" lengthAdjust="spacingAndGlyphs">Depth 100</text>
<text transform="rotate(0.03 981.3 290.8)" x="981.3" y="290.8" font-size="11" text-anchor="middle" textLength="102.5" lengthAdjust="spacingAndGlyphs">Number of Epochs</text>
<text transform="rotate(0.03 857.5 274.9)" x="857.5" y="274.9" font-size="12" text-anchor="middle" textLength="6.6" lengthAdjust="spacingAndGlyphs">0</text>
<text transform="rotate(0.03 888.6 274.9)" x="888.6" y="274.9" font-size="12" text-anchor="middle" textLength="13.8" lengthAdjust="spacingAndGlyphs">50</text>
<text transform="rotate(0.03 919.7 274.9)" x="919.7" y="274.9" font-size="12" text-anchor="middle" textLength="20.8" lengthAdjust="spacingAndGlyphs">100</text>
<text transform="rotate(0.03 950.8 274.9)" x="950.8" y="274.9" font-size="12" text-anchor="middle" textLength="20.8" lengthAdjust="spacingAndGlyphs">150</text>
<text transform="rotate(0.03 981.9 274.9)" x="981.9" y="274.9" font-size="12" text-anchor="middle" textLength="20.8" lengthAdjust="spacingAndGlyphs">200</text>
<text transform="rotate(0.03 1013.0 274.9)" x="1013.0" y="274.9" font-size="12" text-anchor="middle" textLength="20.8" lengthAdjust="spacingAndGlyphs">250</text>
<text transform="rotate(0.03 1044.1 274.9)" x="1044.1" y="274.9" font-size="12" text-anchor="middle" textLength="20.8" lengthAdjust="spacingAndGlyphs">300</text>
<text transform="rotate(0.03 1075.2 274.9)" x="1075.2" y="274.9" font-size="12" text-anchor="middle" textLength="20.8" lengthAdjust="spacingAndGlyphs">350</text>
<text transform="rotate(0.03 1106.3 274.9)" x="1106.3" y="274.9" font-size="12" text-anchor="middle" textLength="20.8" lengthAdjust="spacingAndGlyphs">400</text>
<text transform="rotate(0.03 44.8 31.4)" x="44.8" y="31.4" font-size="11.6" text-anchor="end" textLength="13.4" lengthAdjust="spacingAndGlyphs">10</text>
<text transform="rotate(0.03 50.4 26.1)" x="50.4" y="26.1" font-size="8.4" text-anchor="end" textLength="5.2" lengthAdjust="spacingAndGlyphs">0</text>
<text transform="rotate(0.03 42.8 73.8)" x="42.8" y="73.8" font-size="11.6" text-anchor="end" textLength="13.4" lengthAdjust="spacingAndGlyphs">10</text>
<text transform="rotate(0.03 50.4 68.5)" x="50.4" y="68.5" font-size="8.4" text-anchor="end" textLength="7.4" lengthAdjust="spacingAndGlyphs">-1</text>
<text transform="rotate(0.03 42.8 116.1)" x="42.8" y="116.1" font-size="11.6" text-anchor="end" textLength="13.4" lengthAdjust="spacingAndGlyphs">10</text>
<text transform="rotate(0.03 50.4 110.8)" x="50.4" y="110.8" font-size="8.4" text-anchor="end" textLength="7.4" lengthAdjust="spacingAndGlyphs">-2</text>
<text transform="rotate(0.03 42.8 158.5)" x="42.8" y="158.5" font-size="11.6" text-anchor="end" textLength="13.4" lengthAdjust="spacingAndGlyphs">10</text>
<text transform="rotate(0.03 50.4 153.2)" x="50.4" y="153.2" font-size="8.4" text-anchor="end" textLength="7.4" lengthAdjust="spacingAndGlyphs">-3</text>
<text transform="rotate(0.03 42.8 200.8)" x="42.8" y="200.8" font-size="11.6" text-anchor="end" textLength="13.4" lengthAdjust="spacingAndGlyphs">10</text>
<text transform="rotate(0.03 50.4 195.5)" x="50.4" y="195.5" font-size="8.4" text-anchor="end" textLength="7.4" lengthAdjust="spacingAndGlyphs">-4</text>
<text transform="rotate(0.03 42.8 243.2)" x="42.8" y="243.2" font-size="11.6" text-anchor="end" textLength="13.4" lengthAdjust="spacingAndGlyphs">10</text>
<text transform="rotate(0.03 50.4 237.9)" x="50.4" y="237.9" font-size="8.4" text-anchor="end" textLength="7.4" lengthAdjust="spacingAndGlyphs">-5</text>
<text transform="translate(20.6,137.5) rotate(-90.03)" font-size="10" text-anchor="middle" textLength="140.7" lengthAdjust="spacingAndGlyphs">Mean Cross Entropy Error</text>
<rect x="997.2" y="117.3" width="102" height="42.5" fill="#fff" stroke="#000" stroke-width="1.1"/>
<path d="M1005.8,127.8 H1025.6" stroke="#0000ff" stroke-width="1.1"/>
<path d="M1005.8,147 H1025.6" stroke="#008000" stroke-width="1.1"/>
<text transform="rotate(0.03 1040.6 132.4)" x="1040.6" y="132.4" font-size="13" textLength="31.4" lengthAdjust="spacingAndGlyphs">plain</text>
<text transform="rotate(0.03 1040.6 151.7)" x="1040.6" y="151.7" font-size="13" textLength="54" lengthAdjust="spacingAndGlyphs">highway</text>
</svg>
<div class="cap" style="top:330.0px"><i style="letter-spacing:-0.17px">Figure 1.</i> Comparison of optimization of plain networks and highway networks of various depths.&nbsp; All networks were optimized using</div>
<div class="cap" style="top:356.0px">SGD with momentum.&nbsp; The curves shown are for the best hyperparameter settings obtained for each configuration using a random</div>
<div class="cap" style="top:381.0px">search. Plain networks become much harder to optimize with increasing depth, while highway networks with up to 100 layers can still</div>
<div class="cap last" style="top:406.0px">be optimized well.</div>
<div class="mask"></div>
</body></html>
